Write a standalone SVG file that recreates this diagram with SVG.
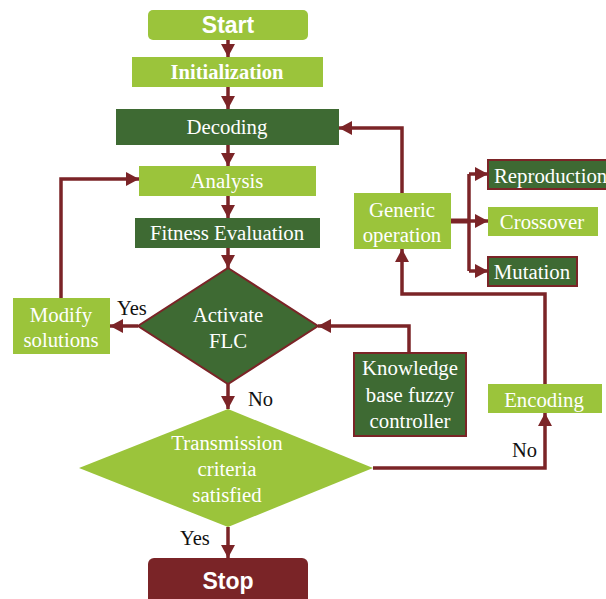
<svg xmlns="http://www.w3.org/2000/svg" width="606" height="599" viewBox="0 0 606 599">
<defs>
<marker id="ah" markerUnits="userSpaceOnUse" markerWidth="16" markerHeight="16" refX="13" refY="8" orient="auto">
<path d="M0,1 L13,8 L0,15 z" fill="#7b2427"/>
</marker>
<style>
.lg{fill:#9bc43b}
.dg{fill:#3e6a33}
.dgb{fill:#3e6a33;stroke:#7b2427;stroke-width:2}
.t{font-family:'Liberation Serif','Times New Roman','DejaVu Serif',serif;font-size:20.8px;fill:#fff;text-anchor:middle}
.tb{font-family:'Liberation Serif','Times New Roman','DejaVu Serif',serif;font-size:20.5px;font-weight:bold;fill:#fff;text-anchor:middle}
.ta{font-family:'Liberation Sans',Arial,sans-serif;font-size:23px;font-weight:bold;fill:#fff;text-anchor:middle}
.lb{font-family:'Liberation Serif','Times New Roman','DejaVu Serif',serif;font-size:20.5px;fill:#111}
.c{fill:none;stroke:#7b2427;stroke-width:3.5}
.ca{fill:none;stroke:#7b2427;stroke-width:3.5;marker-end:url(#ah)}
</style>
</defs>
<rect width="606" height="599" fill="#fff"/>
<g id="connectors">
<line class="ca" x1="228" y1="40" x2="228" y2="57"/>
<line class="ca" x1="228" y1="87" x2="228" y2="109"/>
<line class="ca" x1="228" y1="145" x2="228" y2="166"/>
<line class="ca" x1="228" y1="196" x2="228" y2="218"/>
<line class="ca" x1="228" y1="248" x2="228" y2="268"/>
<line class="ca" x1="228" y1="384" x2="228" y2="409"/>
<line class="ca" x1="228" y1="527" x2="228" y2="558"/>
<line class="ca" x1="138" y1="326" x2="110" y2="326"/>
<polyline class="ca" points="61,298 61,179 139,179"/>
<polyline class="ca" points="409,353 409,326 318,326"/>
<polyline class="ca" points="402,193 402,128 339,128"/>
<line x1="451" y1="221" x2="469" y2="221" stroke="#7b2427" stroke-width="5"/>
<polyline class="c" points="469,174 469,271"/>
<line class="ca" x1="469" y1="174" x2="488" y2="174"/>
<line class="ca" x1="469" y1="221" x2="488" y2="221"/>
<line class="ca" x1="469" y1="271" x2="488" y2="271"/>
<polyline class="ca" points="545,384 545,294 402,294 402,249"/>
<polyline class="ca" points="373,468 545,468 545,413"/>
<text class="lb" x="117" y="315">Yes</text>
<text class="lb" x="248" y="406">No</text>
<text class="lb" x="180" y="545">Yes</text>
<text class="lb" x="512" y="457">No</text>
</g>
<g id="start"><rect class="lg" x="148" y="10" width="160" height="30" rx="5"/><text class="ta" x="228" y="33">Start</text></g>
<g id="init"><rect class="lg" x="132" y="57" width="191" height="30"/><text class="tb" x="227" y="79">Initialization</text></g>
<g id="decoding"><rect class="dg" x="116" y="109" width="223" height="36"/><text class="t" x="227" y="134">Decoding</text></g>
<g id="analysis"><rect class="lg" x="139" y="166" width="177" height="30"/><text class="t" x="227" y="188">Analysis</text></g>
<g id="fitness"><rect class="dg" x="135" y="218" width="185" height="30"/><text class="t" x="227" y="240">Fitness Evaluation</text></g>
<g id="activate"><polygon class="dgb" points="228,268 318,326 228,384 138,326"/><text class="t" x="228" y="322">Activate</text><text class="t" x="228" y="348">FLC</text></g>
<g id="modify"><rect class="lg" x="13" y="298" width="97" height="56"/><text class="t" x="61" y="322">Modify</text><text class="t" x="61" y="347">solutions</text></g>
<g id="kb"><rect class="dgb" x="354" y="353" width="112" height="83"/><text class="t" x="410" y="375">Knowledge</text><text class="t" x="410" y="402">base fuzzy</text><text class="t" x="410" y="428">controller</text></g>
<g id="generic"><rect class="lg" x="354" y="193" width="97" height="56"/><text class="t" x="402" y="217">Generic</text><text class="t" x="402" y="242">operation</text></g>
<g id="reproduction"><rect class="dgb" x="488" y="160" width="122" height="29"/><text class="t" x="494" y="183" style="text-anchor:start">Reproduction</text></g>
<g id="crossover"><rect class="lg" x="488" y="207" width="110" height="29"/><text class="t" x="542" y="229">Crossover</text></g>
<g id="mutation"><rect class="dgb" x="488" y="257" width="89" height="29"/><text class="t" x="532" y="279">Mutation</text></g>
<g id="encoding"><rect class="lg" x="488" y="384" width="114" height="29"/><text class="t" x="544" y="407">Encoding</text></g>
<g id="transmission"><polygon class="lg" points="228,409 373,468 228,527 79,468"/><text class="t" x="227" y="450">Transmission</text><text class="t" x="227" y="476">criteria</text><text class="t" x="227" y="502">satisfied</text></g>
<g id="stop"><rect x="148" y="558" width="160" height="50" rx="6" fill="#7a2427"/><text class="ta" x="228" y="589">Stop</text></g>
</svg>
